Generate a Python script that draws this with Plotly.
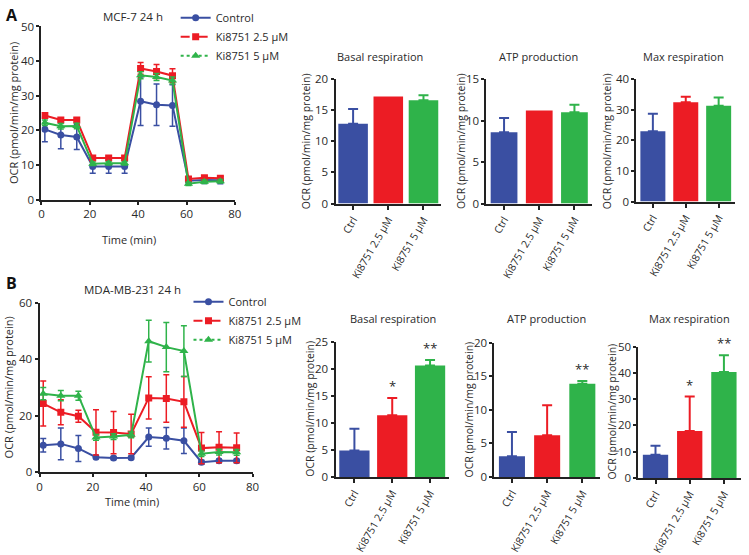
import plotly.graph_objects as go

W, H = 749, 555

# ---------------- data ----------------
time_min = [1.4, 8.0, 14.6, 21.2, 27.8, 34.4, 41.0, 47.6, 54.2, 60.8, 67.4, 74.0]

a_ctrl = [20.3, 18.7, 18.1, 9.6, 9.6, 9.6, 28.4, 27.4, 27.2, 5.5, 5.7, 5.6]
a_ctrl_err = [3.6, 4.0, 3.6, 2.0, 2.0, 2.0, 7.0, 6.0, 6.0, 1.0, 1.0, 1.0]
a_k25 = [24.3, 23.0, 23.0, 12.0, 12.0, 12.0, 37.9, 37.0, 35.8, 6.0, 6.3, 6.2]
a_k25_err = [0.8, 0.6, 0.6, 0.6, 0.6, 0.6, 1.7, 2.0, 2.0, 0.6, 0.6, 0.6]
a_k5 = [22.2, 21.2, 21.3, 10.4, 10.5, 10.5, 35.9, 35.4, 34.4, 4.6, 5.2, 5.3]
a_k5_err = [0.8, 0.8, 0.8, 0.5, 0.5, 0.5, 1.0, 1.0, 1.0, 0.5, 0.5, 0.5]

b_ctrl = [9.5, 10.0, 8.4, 5.3, 5.0, 5.1, 12.4, 12.0, 11.1, 3.5, 4.0, 4.0]
b_ctrl_err = [2.4, 5.6, 4.6, 0.5, 0.5, 0.5, 3.2, 3.8, 4.5, 0.7, 0.6, 0.6]
b_k25 = [24.3, 21.2, 19.8, 14.1, 14.0, 13.5, 26.3, 26.1, 24.9, 8.5, 8.8, 8.6]
b_k25_err = [8.0, 4.4, 2.1, 8.0, 7.5, 7.0, 7.5, 8.4, 9.0, 5.5, 5.5, 5.3]
b_k5 = [27.8, 27.1, 27.1, 12.3, 12.6, 13.2, 46.4, 44.3, 42.9, 6.5, 7.1, 7.0]
b_k5_err = [2.2, 1.8, 1.6, 1.0, 1.0, 1.0, 7.4, 8.7, 9.0, 1.0, 1.0, 1.0]

series_names = ["Control", "Ki8751 2.5 \u03bcM", "Ki8751 5 \u03bcM"]
bar_cats = ["Ctrl", "Ki8751 2.5 \u03bcM", "Ki8751 5 \u03bcM"]

a_basal = [12.8, 17.2, 16.6]
a_basal_err = [2.4, 0.0, 0.8]
a_atp = [8.6, 11.2, 11.0]
a_atp_err = [1.7, 0.0, 0.9]
a_max = [23.0, 32.4, 31.3]
a_max_err = [5.7, 1.8, 2.7]

b_basal = [4.9, 11.4, 20.6]
b_basal_err = [4.0, 3.2, 1.0]
b_atp = [3.1, 6.2, 13.9]
b_atp_err = [3.6, 4.5, 0.4]
b_max = [8.8, 17.9, 40.3]
b_max_err = [3.5, 13.1, 6.4]

b_basal_sig = ["", "*", "**"]
b_atp_sig = ["", "", "**"]
b_max_sig = ["", "*", "**"]

# ---------------- style ----------------
BLUE = "#3a4fa2"
RED = "#ec1c24"
GREEN = "#2fb34a"
COLORS = [BLUE, RED, GREEN]
SYMBOLS = ["circle", "square", "triangle-up"]
DASHES = ["solid", "dash", "dot"]
FONT = "Open Sans, Noto Sans, DejaVu Sans, sans-serif"
AXC = "#222222"
TXT = "#2a2a2a"


def px_x(p):
    return p / W


def px_y(p):
    return 1 - p / H


fig = go.Figure()

# axes domains in pixels: (x0, x1, ytop, ybottom)
panels = {
    1: (39, 235, 19, 197),
    2: (337, 444, 73, 201),
    3: (490, 597, 73, 201),
    4: (642, 742, 73, 199),
    5: (37, 253, 303, 477),
    6: (337, 452, 343, 482),
    7: (498, 605, 344, 482),
    8: (644, 748, 348, 483),
}
bar_widths = {2: 0.84, 3: 0.76, 4: 0.76, 6: 0.8, 7: 0.74, 8: 0.74}


def axname(i, ax):
    return ax if i == 1 else f"{ax}{i}"


def line_panel(i, ys, errs, legend):
    xa, ya = axname(i, "x"), axname(i, "y")
    for k in range(3):
        fig.add_trace(go.Scatter(
            x=time_min, y=ys[k], mode="lines+markers",
            line=dict(color=COLORS[k], width=2),
            marker=dict(color=COLORS[k], symbol=SYMBOLS[k], size=7 if k < 2 else 8),
            error_y=dict(type="data", array=errs[k], color=COLORS[k], thickness=1.5, width=3),
            xaxis=xa, yaxis=ya, showlegend=False, name=series_names[k]))
    for k in range(3):
        fig.add_trace(go.Scatter(
            x=[None], y=[None], mode="lines+markers",
            line=dict(color=COLORS[k], width=2, dash=DASHES[k]),
            marker=dict(color=COLORS[k], symbol=SYMBOLS[k], size=7 if k < 2 else 8),
            xaxis=xa, yaxis=ya, showlegend=True, legend=legend, name=series_names[k]))


def bar_panel(i, vals, errs, sig=None):
    xa, ya = axname(i, "x"), axname(i, "y")
    for k in range(3):
        fig.add_trace(go.Bar(
            x=[bar_cats[k]], y=[vals[k]], width=bar_widths[i],
            marker=dict(color=COLORS[k], line=dict(width=0)),
            error_y=dict(type="data", array=[errs[k]], arrayminus=[0], symmetric=False,
                         color=COLORS[k], thickness=2, width=5, visible=errs[k] > 0),
            xaxis=xa, yaxis=ya, showlegend=False))
        if sig and sig[k]:
            fig.add_annotation(x=bar_cats[k], y=vals[k] + errs[k], xref=xa, yref=ya,
                               text=sig[k], showarrow=False, yanchor="bottom", yshift=1,
                               font=dict(size=13, color=TXT, family=FONT))


line_panel(1, [a_ctrl, a_k25, a_k5], [a_ctrl_err, a_k25_err, a_k5_err], "legend")
bar_panel(2, a_basal, a_basal_err)
bar_panel(3, a_atp, a_atp_err)
bar_panel(4, a_max, a_max_err)
line_panel(5, [b_ctrl, b_k25, b_k5], [b_ctrl_err, b_k25_err, b_k5_err], "legend2")
bar_panel(6, b_basal, b_basal_err, b_basal_sig)
bar_panel(7, b_atp, b_atp_err, b_atp_sig)
bar_panel(8, b_max, b_max_err, b_max_sig)

yranges = {1: (0, 50, 10), 2: (0, 20, 5), 3: (0, 15, 5), 4: (0, 40, 10),
           5: (0, 60, 20), 6: (0, 25, 5), 7: (0, 20, 5), 8: (0, 50, 10)}

layout = dict(
    width=W, height=H, margin=dict(l=0, r=0, t=0, b=0),
    paper_bgcolor="white", plot_bgcolor="white",
    font=dict(family=FONT, size=11, color=TXT),
    barmode="overlay", showlegend=True,
)

for i, (x0, x1, yt, yb) in panels.items():
    xk = "xaxis" if i == 1 else f"xaxis{i}"
    yk = "yaxis" if i == 1 else f"yaxis{i}"
    ya = axname(i, "y")
    xa = axname(i, "x")
    r0, r1, dt = yranges[i]
    layout[yk] = dict(
        domain=[px_y(yb), px_y(yt)], anchor=xa, range=[r0, r1], dtick=dt,
        showgrid=False, zeroline=False, showline=True, linecolor=AXC, linewidth=2,
        ticks="outside", ticklen=3, tickwidth=2, tickcolor=AXC,
        tickfont=dict(size=11.5, color=TXT), fixedrange=True)
    if i in (1, 5):
        layout[xk] = dict(
            domain=[px_x(x0), px_x(x1)], anchor=ya, range=[0, 80], dtick=20,
            showgrid=False, zeroline=False, showline=True, linecolor=AXC, linewidth=2,
            ticks="outside", ticklen=3, tickwidth=2, tickcolor=AXC,
            tickfont=dict(size=11.5, color=TXT), fixedrange=True)
    else:
        layout[xk] = dict(
            domain=[px_x(x0), px_x(x1)], anchor=ya, type="category",
            range=[-0.5, 2.5], categoryorder="array", categoryarray=bar_cats,
            showgrid=False, zeroline=False, showline=True, linecolor=AXC, linewidth=2,
            ticks="outside", ticklen=4, tickwidth=2, tickcolor=AXC, tickangle=-60,
            tickfont=dict(size=10.5, color=TXT), fixedrange=True)

layout["legend"] = dict(x=px_x(175), y=px_y(-5), xanchor="left", yanchor="top",
                        bgcolor="rgba(0,0,0,0)", font=dict(size=11, color=TXT),
                        tracegroupgap=0, itemwidth=30)
layout["legend2"] = dict(x=px_x(188), y=px_y(287), xanchor="left", yanchor="top",
                         bgcolor="rgba(0,0,0,0)", font=dict(size=11, color=TXT),
                         tracegroupgap=0, itemwidth=30)
fig.update_layout(**layout)


def ann(text, x, y, size=11, angle=0, bold=False, color=TXT):
    fig.add_annotation(text=f"<b>{text}</b>" if bold else text,
                       x=px_x(x), y=px_y(y), xref="paper", yref="paper",
                       showarrow=False, textangle=angle, xanchor="center", yanchor="middle",
                       font=dict(size=size, color=color, family=FONT))


ylab = "OCR (pmol/min/mg protein)"
# panel letters
ann("A", 9, 7, size=16, bold=True, color="#111")
ann("B", 9, 283, size=16, bold=True, color="#111")
# line chart titles
ann("MCF-7 24 h", 132, 9, size=11.5)
ann("MDA-MB-231 24 h", 131, 289, size=11.5)
ann("Time (min)", 128, 238)
ann("Time (min)", 131, 507)
ann(ylab, 10, 108, angle=-90)
ann(ylab, 6, 390, angle=-90)
# bar titles
ann("Basal respiration", 382, 50)
ann("ATP production", 543, 50)
ann("Max respiration", 690, 50)
ann("Basal respiration", 395, 319)
ann("ATP production", 551, 319)
ann("Max respiration", 696, 319)
# bar y titles
ann(ylab, 307, 137, size=10.5, angle=-90)
ann(ylab, 464, 137, size=10.5, angle=-90)
ann(ylab, 612, 137, size=10.5, angle=-90)
ann(ylab, 311, 412, size=10.5, angle=-90)
ann(ylab, 472, 413, size=10.5, angle=-90)
ann(ylab, 617, 415, size=10.5, angle=-90)

fig.write_html("out.html", config={"displayModeBar": False},
               post_script="document.body.style.margin='0px';")
